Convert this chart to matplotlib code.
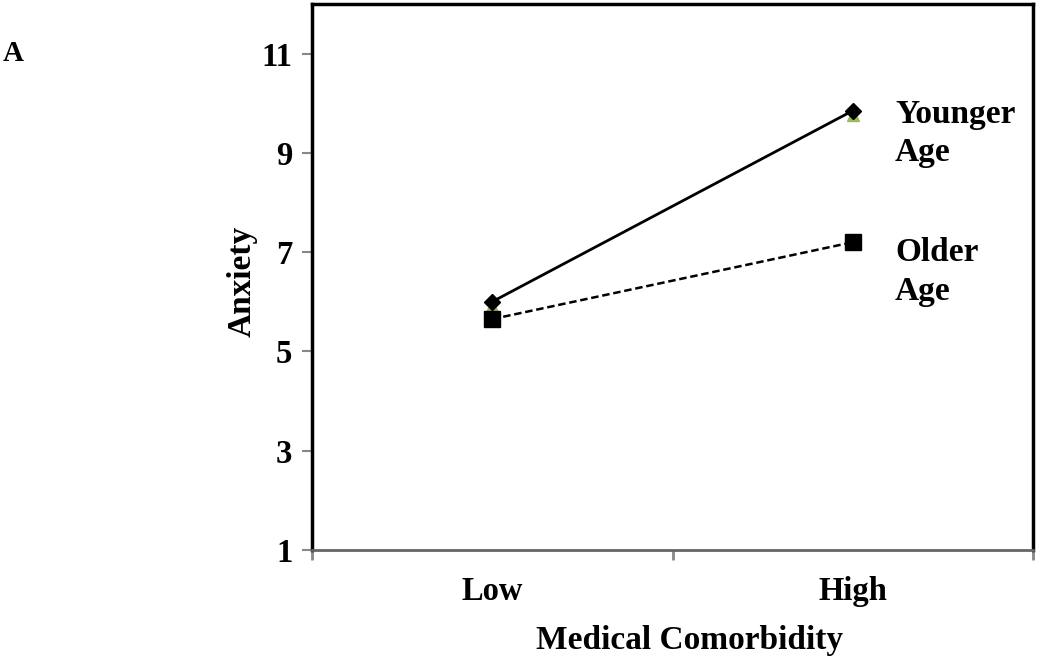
import matplotlib.pyplot as plt
import numpy as np

# Data
categories = ["Low", "High"]
younger = [6.0, 9.85]
older = [5.65, 7.2]
yticks = [1, 3, 5, 7, 9, 11]

plt.rcParams['font.family'] = ['Liberation Serif', 'DejaVu Serif']
plt.rcParams['font.weight'] = 'bold'

fig = plt.figure(figsize=(10.5, 6.57), dpi=100)
ax = fig.add_axes([0.297, 0.163, 0.687, 0.831])

x = np.arange(len(categories))
# little green triangles peeking out under the diamonds (as in the original)
ax.plot(x, np.array(younger) - 0.09, linestyle='none', marker='^',
        markersize=9, color='#9bbb59', zorder=2)
ax.plot(x, younger, color='black', linewidth=2, marker='D', markersize=8, zorder=3)
ax.plot(x, older, color='black', linewidth=1.8, linestyle=(0, (3, 1.5)),
        marker='s', markersize=11, zorder=3)

ax.text(1.117, 9.39, "Younger\nAge", fontsize=24, fontweight='bold',
        va='center', ha='left', linespacing=1.3)
ax.text(1.117, 6.6, "Older\nAge", fontsize=24, fontweight='bold',
        va='center', ha='left', linespacing=1.3)

ax.set_xlim(-0.5, 1.5)
ax.set_ylim(1, 12)
ax.set_yticks(yticks)
ax.set_yticklabels([str(v) for v in yticks], fontsize=23.5, fontweight='bold')
ax.set_xticks([-0.5, 0.5, 1.5])
ax.set_xticklabels([])
ax.set_xticks(x, minor=True)
ax.set_xticklabels(categories, minor=True, fontsize=23.5, fontweight='bold')
ax.tick_params(axis='x', which='major', length=7, width=2, color='#888888', direction='out')
ax.tick_params(axis='x', which='minor', length=0, pad=19)
ax.tick_params(axis='y', length=7, width=1.5, color='#888888', pad=7)

for side in ['left', 'top', 'right']:
    ax.spines[side].set_linewidth(2.5)
    ax.spines[side].set_color('black')
ax.spines['bottom'].set_linewidth(2)
ax.spines['bottom'].set_color('#666666')

fig.text(0.2305, 0.572, "Anxiety", fontsize=24, fontweight='bold',
         rotation=90, ha='center', va='center')
fig.text(0.657, 0.025, "Medical Comorbidity", fontsize=24, fontweight='bold',
         ha='center', va='center')

fig.text(0.003, 0.918, "A", fontsize=21, fontweight='bold', va='center')

plt.savefig("out.png", dpi=100)
